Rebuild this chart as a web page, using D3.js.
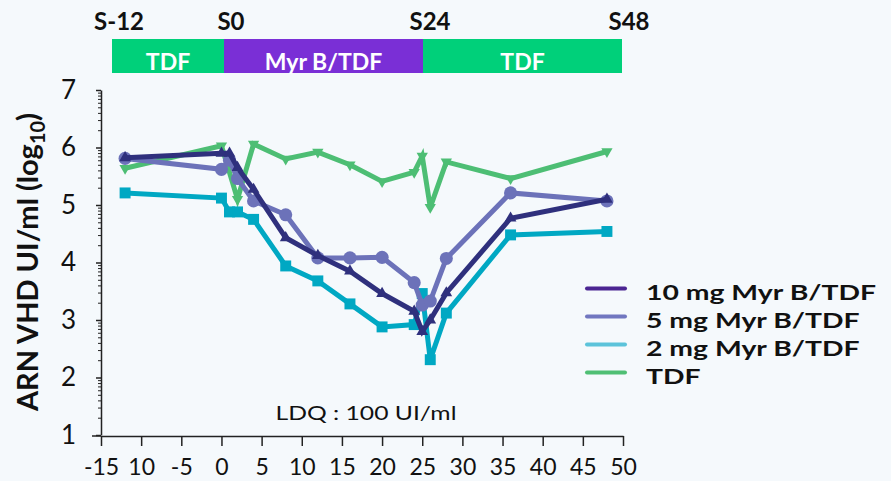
<!DOCTYPE html>
<html>
<head>
<meta charset="utf-8">
<script src="https://cdn.jsdelivr.net/npm/d3@7"></script>
<style>
  body { margin: 0; background: #f5f9fc; }
  svg { display: block; }
  text { font-family: Lato, "Open Sans", sans-serif; fill: #111; }
</style>
</head>
<body>
<svg id="chart" width="891" height="481"></svg>
<script>
// Viral load (log10 UI/ml) by study week
const weeksMyr = [-12, 0, 1, 2, 4, 8, 12, 16, 20, 24, 25, 26, 28, 36, 48];
const mg10 = [5.82, 5.90, 5.90, 5.65, 5.27, 4.43, 4.12, 3.85, 3.46, 3.15, 2.80, 3.00, 3.47, 4.77, 5.10];
const mg5  = [5.81, 5.62, 5.78, 5.46, 5.07, 4.83, 4.08, 4.08, 4.09, 3.65, 3.26, 3.33, 4.07, 5.21, 5.07];
const mg2  = [5.21, 5.12, 4.88, 4.88, 4.75, 3.94, 3.68, 3.28, 2.88, 2.92, 3.46, 2.31, 3.12, 4.48, 4.54];
const weeksTDF = [-12, 0, 2, 4, 8, 12, 16, 20, 24, 25, 26, 28, 36, 48];
const tdf  = [5.64, 6.03, 5.10, 6.06, 5.80, 5.92, 5.70, 5.41, 5.57, 5.85, 4.96, 5.75, 5.46, 5.93];

const seriesNames = ["10 mg Myr B/TDF", "5 mg Myr B/TDF", "2 mg Myr B/TDF", "TDF"];

// Axis ticks
const xTickValues = [-15, -10, -5, 0, 5, 10, 15, 20, 25, 30, 35, 40, 45, 50];
const xTickLabels = ["-15", "10", "-5", "0", "5", "10", "15", "20", "25", "30", "35", "40", "45", "50"];
const yTickValues = [1, 2, 3, 4, 5, 6, 7];

// Treatment phases shown above the plot
const phaseBounds = [-12, 0, 24, 48];
const phaseBoundLabels = ["S-12", "S0", "S24", "S48"];
const phaseLabels = ["TDF", "Myr B/TDF", "TDF"];

const svg = d3.select("#chart");
svg.append("rect").attr("width", 891).attr("height", 481).attr("fill", "#f5f9fc");

const x = d3.scaleLinear().domain([-15, 50]).range([101, 623]);
const y = d3.scaleLinear().domain([1, 7]).range([435, 90]);

// ---- phase band ----
const band = d3.scaleLinear().domain(phaseBounds).range([112, 224, 423, 622]);
const phaseColors = ["#00d07a", "#7a2fd6", "#00d07a"];
const phases = phaseLabels.map((l, i) => ({ label: l, from: phaseBounds[i], to: phaseBounds[i + 1], color: phaseColors[i] }));
const gBand = svg.append("g");
gBand.selectAll("rect").data(phases).join("rect")
  .attr("x", d => band(d.from)).attr("width", d => band(d.to) - band(d.from))
  .attr("y", 39).attr("height", 34).attr("fill", d => d.color);
gBand.selectAll("text.ph").data(phases).join("text").attr("class", "ph")
  .attr("x", d => (band(d.from) + band(d.to)) / 2).attr("y", 69.5)
  .attr("text-anchor", "middle").attr("font-weight", 700).attr("font-size", 23)
  .style("fill", "#fff").text(d => d.label);
gBand.selectAll("text.bd").data(phaseBounds).join("text").attr("class", "bd")
  .attr("x", d => band(d) + 7).attr("y", 30)
  .attr("text-anchor", "middle").attr("font-weight", 700).attr("font-size", 24)
  .text((d, i) => phaseBoundLabels[i]);

// ---- axes ----
const axisColor = "#222";
const gx = svg.append("g").attr("transform", "translate(0,436)")
  .call(d3.axisBottom(x).tickValues(xTickValues).tickFormat((d, i) => xTickLabels[i])
    .tickSize(10).tickSizeOuter(0).tickPadding(13));
gx.select(".domain").attr("stroke", axisColor).attr("stroke-width", 1.5);
gx.selectAll(".tick line").attr("stroke", axisColor).attr("stroke-width", 1.5);
gx.selectAll(".tick text").attr("font-size", 23).attr("font-family", "Lato, sans-serif").style("fill", "#111");
svg.append("line").attr("x1", 92).attr("x2", 101).attr("y1", 436).attr("y2", 436)
  .attr("stroke", axisColor).attr("stroke-width", 1.5);

const minorY = [];
for (let i = 1; i < 7; i++) for (let k = 2; k <= 9; k++) minorY.push(i + Math.log10(k));
const gyMinor = svg.append("g").attr("transform", "translate(101,0)")
  .call(d3.axisLeft(y).tickValues(minorY).tickFormat("").tickSize(3).tickSizeOuter(0));
gyMinor.select(".domain").remove();
gyMinor.selectAll(".tick line").attr("stroke", axisColor).attr("stroke-width", 1);

const gy = svg.append("g").attr("transform", "translate(101,0)")
  .call(d3.axisLeft(y).tickValues(yTickValues).tickFormat(d3.format("d"))
    .tickSize(5).tickSizeOuter(0).tickPadding(20));
gy.select(".domain").attr("stroke", axisColor).attr("stroke-width", 1.5);
gy.selectAll(".tick line").attr("stroke", axisColor).attr("stroke-width", 1.5);
gy.selectAll(".tick text").attr("font-size", 26).attr("font-family", "Lato, sans-serif").style("fill", "#111");

// y axis title
const yTitle = svg.append("text")
  .attr("transform", "translate(38,262) rotate(-90)")
  .attr("text-anchor", "middle").attr("font-weight", 700).attr("font-size", 29);
yTitle.append("tspan").text("ARN VHD UI/ml (log");
yTitle.append("tspan").attr("font-size", 20).attr("dy", 7).text("10");
yTitle.append("tspan").attr("dy", -7).text(")");

// limit of quantification note
svg.append("text").attr("transform", "translate(366,420) scale(1.3,1)").attr("text-anchor", "middle")
  .attr("font-size", 19).text("LDQ : 100 UI/ml");

// ---- series ----
const series = [
  { name: seriesNames[3], weeks: weeksTDF, values: tdf, color: "#4dbe74", legend: "#4fbf74", symbol: d3.symbolTriangle, size: 55, rot: 180 },
  { name: seriesNames[2], weeks: weeksMyr, values: mg2, color: "#00a8c3", legend: "#5cc3da", symbol: d3.symbolSquare, size: 120, rot: 0 },
  { name: seriesNames[1], weeks: weeksMyr, values: mg5, color: "#6c72b9", legend: "#7177c0", symbol: d3.symbolCircle, size: 135, rot: 0 },
  { name: seriesNames[0], weeks: weeksMyr, values: mg10, color: "#2f307d", legend: "#4b2592", symbol: d3.symbolTriangle, size: 60, rot: 0 }
];

const line = d3.line().x(d => x(d[0])).y(d => y(d[1]));
series.forEach(s => {
  const pts = s.weeks.map((w, i) => [w, s.values[i]]);
  const g = svg.append("g");
  g.append("path").datum(pts).attr("d", line)
    .attr("fill", "none").attr("stroke", s.color).attr("stroke-width", 5)
    .attr("stroke-linejoin", "miter");
  g.selectAll("path.m").data(pts).join("path").attr("class", "m")
    .attr("d", d3.symbol(s.symbol, s.size))
    .attr("transform", d => `translate(${x(d[0])},${y(d[1])}) rotate(${s.rot})`)
    .attr("fill", s.color);
});

// ---- legend ----
const legendOrder = [series[3], series[2], series[1], series[0]];
const lg = svg.append("g");
legendOrder.forEach((s, i) => {
  const ly = 288.5 + i * 28;
  lg.append("line").attr("x1", 587).attr("x2", 625).attr("y1", ly).attr("y2", ly)
    .attr("stroke", s.legend).attr("stroke-width", 4).attr("stroke-linecap", "round");
  lg.append("text").attr("transform", `translate(646,${ly + 11}) scale(1.35,1)`)
    .attr("font-weight", 700).attr("font-size", 21).text(s.name);
});
</script>
</body>
</html>
